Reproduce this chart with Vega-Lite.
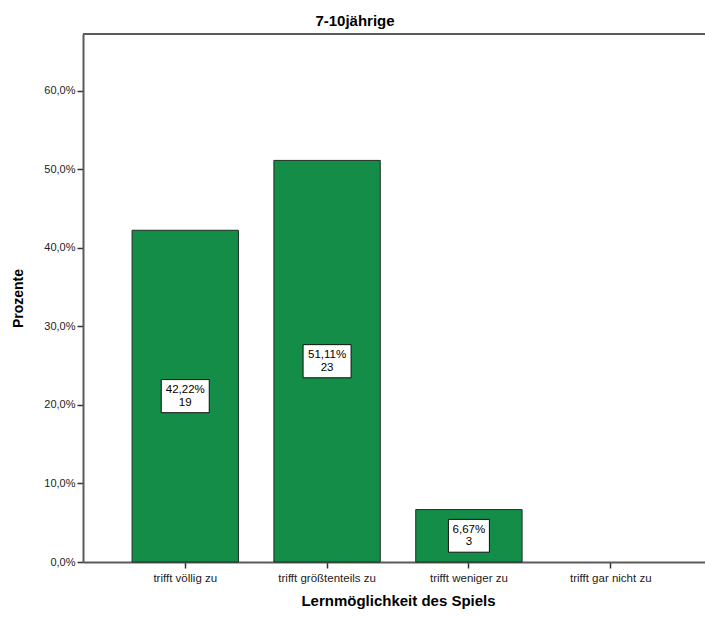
{
  "$schema": "https://vega.github.io/schema/vega-lite/v6.json",
  "autosize": "none",
  "padding": {"left": 83, "top": 34, "right": 0, "bottom": 55},
  "width": 630,
  "height": 528,
  "background": "white",
  "title": {
    "text": "7-10jährige",
    "anchor": "start",
    "frame": "group",
    "align": "center",
    "dx": 272,
    "offset": 4,
    "font": "Liberation Sans",
    "fontSize": 15,
    "fontWeight": "bold",
    "color": "#000000"
  },
  "data": {
    "values": [
      {"kategorie": "trifft völlig zu", "prozent": 42.22, "anzahl": 19},
      {"kategorie": "trifft größtenteils zu", "prozent": 51.11, "anzahl": 23},
      {"kategorie": "trifft weniger zu", "prozent": 6.67, "anzahl": 3},
      {"kategorie": "trifft gar nicht zu", "prozent": 0, "anzahl": 0}
    ]
  },
  "transform": [
    {"calculate": "datum.prozent / 2", "as": "halb"},
    {"calculate": "replace(format(datum.prozent, '.2f'), '.', ',') + '%\\n' + datum.anzahl", "as": "etikett"}
  ],
  "encoding": {
    "x": {
      "field": "kategorie",
      "type": "nominal",
      "sort": null,
      "scale": {
        "domain": ["trifft völlig zu", "trifft größtenteils zu", "trifft weniger zu", "trifft gar nicht zu"],
        "paddingInner": 0.25,
        "paddingOuter": 0.346
      },
      "axis": {
        "title": "Lernmöglichkeit des Spiels",
        "titleFont": "Liberation Sans",
        "titleFontSize": 15,
        "titleFontWeight": "bold",
        "titleColor": "#000000",
        "titlePadding": 10,
        "labelAngle": 0,
        "labelFont": "Liberation Sans",
        "labelFontSize": 11.5,
        "labelColor": "#222222",
        "labelPadding": 4,
        "domainColor": "#5a5a5a",
        "domainWidth": 2,
        "tickColor": "#333333",
        "tickSize": 6,
        "tickWidth": 1.5
      }
    }
  },
  "layer": [
    {
      "transform": [{"filter": "datum.anzahl > 0"}],
      "mark": {"type": "bar", "color": "#138d47", "stroke": "#1f2f24", "strokeWidth": 1},
      "encoding": {
        "y": {
          "field": "prozent",
          "type": "quantitative",
          "scale": {"domain": [0, 67.2], "nice": false},
          "axis": {
            "title": "Prozente",
            "titleFont": "Liberation Sans",
            "titleFontSize": 14,
            "titleFontWeight": "bold",
            "titleColor": "#000000",
            "titlePadding": 18,
            "values": [0, 10, 20, 30, 40, 50, 60],
            "labelExpr": "replace(format(datum.value, '.1f'), '.', ',') + '%'",
            "labelFont": "Liberation Sans",
            "labelFontSize": 11,
            "labelColor": "#222222",
            "labelPadding": 2,
            "grid": false,
            "domainColor": "#5a5a5a",
            "domainWidth": 2,
            "tickColor": "#333333",
            "tickSize": 6,
            "tickWidth": 1.5
          }
        }
      }
    },
    {
      "mark": {"type": "rule", "color": "#5a5a5a", "strokeWidth": 2},
      "encoding": {"y": {"datum": 67.2, "type": "quantitative"}, "x": {"value": 0}, "x2": {"value": 630}}
    },
    {
      "transform": [{"filter": "datum.anzahl > 0"}],
      "mark": {"type": "point", "filled": true, "fill": "white", "stroke": "#111111", "strokeWidth": 1, "opacity": 1},
      "encoding": {
        "y": {"field": "halb", "type": "quantitative"},
        "shape": {
          "condition": {"test": "datum.prozent < 10", "value": "M-1,-0.8L1,-0.8L1,0.8L-1,0.8Z"},
          "value": "M-1,-0.69L1,-0.69L1,0.69L-1,0.69Z"
        },
        "size": {"condition": {"test": "datum.prozent < 10", "value": 1681}, "value": 2304}
      }
    },
    {
      "transform": [{"filter": "datum.anzahl > 0"}],
      "mark": {
        "type": "text",
        "font": "Liberation Sans",
        "fontSize": 11.5,
        "color": "#000000",
        "lineBreak": "\n",
        "lineHeight": 12.5,
        "baseline": "middle",
        "dy": -6
      },
      "encoding": {
        "y": {"field": "halb", "type": "quantitative"},
        "text": {"field": "etikett", "type": "nominal"}
      }
    }
  ],
  "config": {"view": {"stroke": null}}
}
